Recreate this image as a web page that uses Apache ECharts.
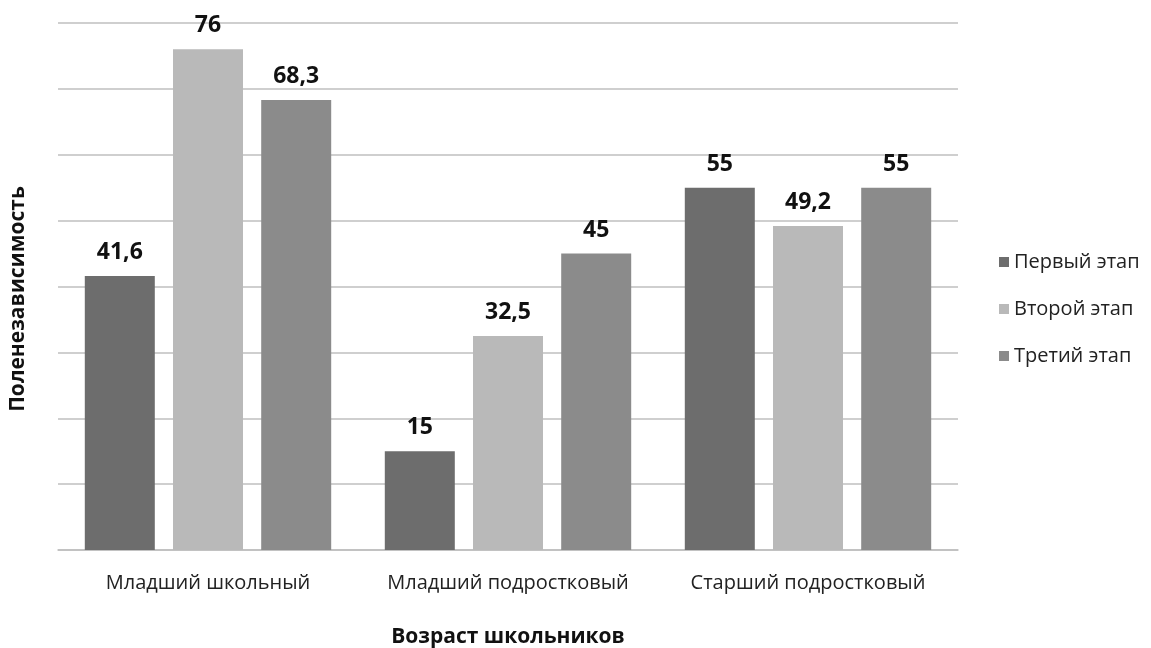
<!DOCTYPE html>
<html>
<head>
<meta charset="utf-8">
<script src="https://cdn.jsdelivr.net/npm/echarts@6/dist/echarts.min.js"></script>
<style>
  html, body { margin: 0; padding: 0; background: #ffffff; overflow: hidden; }
  #chart { width: 1151px; height: 648px; }
</style>
</head>
<body>
<div id="chart"></div>
<script>
// Возрастные группы школьников
const categories = ['Младший школьный', 'Младший подростковый', 'Старший подростковый'];

// Поленезависимость по этапам
const stageNames = ['Первый этап', 'Второй этап', 'Третий этап'];
const firstStage = [41.6, 15, 55];
const secondStage = [76, 32.5, 49.2];
const thirdStage = [68.3, 45, 55];

const stageColors = ['#6d6d6d', '#b9b9b9', '#8b8b8b'];

const FONT = '"Open Sans", "Noto Sans", sans-serif';

function fmt(v) {
  return String(v).replace('.', ',');
}

function barSeries(name, values, color) {
  return {
    name: name,
    type: 'bar',
    data: values,
    barWidth: 70,
    barGap: '26%',
    itemStyle: { color: color },
    label: {
      show: true,
      position: 'top',
      distance: 12,
      color: '#111',
      fontFamily: FONT,
      fontWeight: 'bold',
      fontSize: 23,
      formatter: p => fmt(p.value)
    }
  };
}

const chart = echarts.init(document.getElementById('chart'), null, { renderer: 'canvas' });
chart.setOption({
  animation: false,
  backgroundColor: '#ffffff',
  grid: {
    left: 58, width: 900, top: 23, height: 527,
    containLabel: false,
    outerBoundsMode: 'none'
  },
  legend: {
    orient: 'vertical',
    left: 999,
    top: 250,
    padding: 0,
    icon: 'rect',
    itemWidth: 10,
    itemHeight: 10,
    itemGap: 23,
    textStyle: { fontFamily: FONT, fontSize: 20, color: '#222', lineHeight: 24 },
    data: stageNames
  },
  xAxis: {
    type: 'category',
    data: categories,
    axisLine: { show: true, lineStyle: { color: '#bfbfbf', width: 1.5 } },
    axisTick: { show: false },
    axisLabel: { color: '#222', fontFamily: FONT, fontSize: 20, margin: 23, interval: 0 },
    name: 'Возраст школьников',
    nameLocation: 'middle',
    nameGap: 77,
    nameTextStyle: { color: '#111', fontFamily: FONT, fontWeight: 'bold', fontSize: 21 }
  },
  yAxis: {
    type: 'value',
    min: 0,
    max: 80,
    interval: 10,
    axisLine: { show: false },
    axisTick: { show: false },
    axisLabel: { show: false },
    splitLine: { show: true, lineStyle: { color: '#bfbfbf', width: 1.5 } }
  },
  graphic: [{
    type: 'text',
    x: 18,
    y: 299,
    rotation: Math.PI / 2,
    style: {
      text: 'Поленезависимость',
      fill: '#111',
      font: 'bold 21px ' + FONT,
      align: 'center',
      verticalAlign: 'middle'
    }
  }],
  series: [
    barSeries(stageNames[0], firstStage, stageColors[0]),
    barSeries(stageNames[1], secondStage, stageColors[1]),
    barSeries(stageNames[2], thirdStage, stageColors[2])
  ]
});
</script>
</body>
</html>
